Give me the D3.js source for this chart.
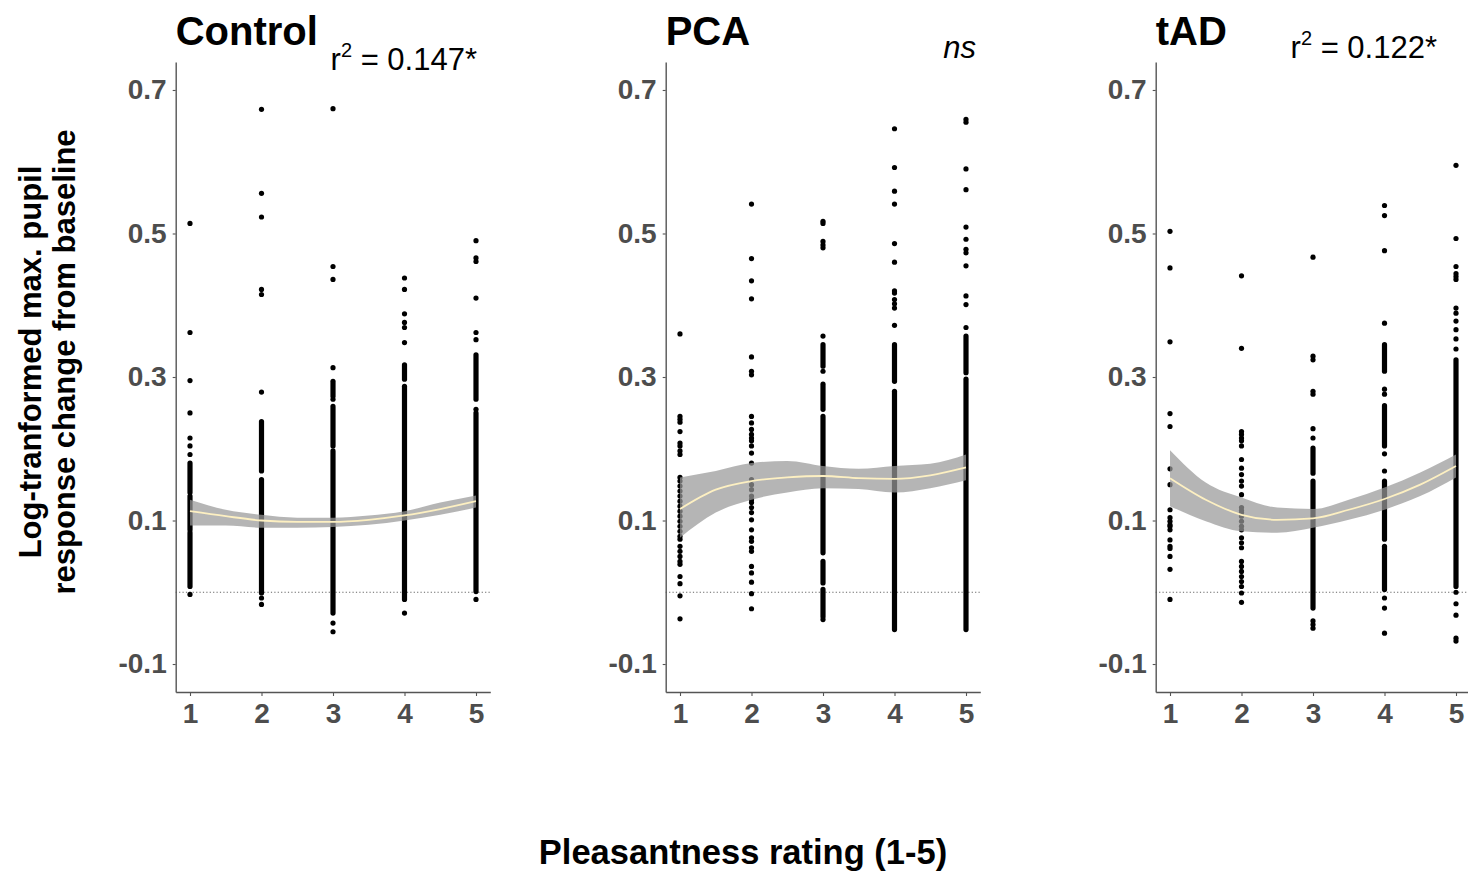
<!DOCTYPE html>
<html>
<head>
<meta charset="utf-8">
<script src="https://cdn.jsdelivr.net/npm/d3@7"></script>
<style>
  body { margin: 0; background: #fff; }
  svg { font-family: "Liberation Sans", Arial, sans-serif; }
</style>
</head>
<body>
<div id="chart"></div>
<script>
// Ratings and y ticks
const ratings = [1, 2, 3, 4, 5];
const yTicks = [-0.1, 0.1, 0.3, 0.5, 0.7];
const groups = ['Control', 'PCA', 'tAD'];
const statLabels = ['0.147*', 'ns', '0.122*'];

// Individual (isolated) points per rating
const controlPoints = [
    [0.514, 0.362, 0.295, 0.250, 0.215, 0.204, 0.192, -0.003],
    [0.673, 0.556, 0.523, 0.422, 0.415, 0.279, -0.008, -0.017],
    [0.674, 0.454, 0.436, 0.313, 0.269, -0.043, -0.055],
    [0.438, 0.422, 0.388, 0.376, 0.369, 0.348, -0.029],
    [0.490, 0.466, 0.461, 0.410, 0.362, 0.352, 0.255, -0.010]
];
// Dense stacks of overlapping points: [low, high]
const controlRuns = [
    [[0.139, 0.180], [0.087, 0.134], [0.008, 0.083]],
    [[0.169, 0.238], [-0.001, 0.157]],
    [[0.273, 0.294], [0.204, 0.259], [-0.029, 0.197]],
    [[0.297, 0.317], [-0.010, 0.287]],
    [[0.269, 0.331], [0.001, 0.250]]
];

const pcaPoints = [
    [0.360, 0.245, 0.241, 0.237, 0.224, 0.208, 0.204, 0.197, 0.192, 0.160, 0.155, 0.148, 0.141,
     0.134, 0.127, 0.120, 0.113, 0.106, 0.099, 0.092, 0.085, 0.078, 0.074, 0.064, 0.057, 0.050,
     0.043, 0.039, 0.022, 0.012, -0.005, -0.037],
    [0.541, 0.465, 0.434, 0.409, 0.328, 0.308, 0.303, 0.245, 0.236, 0.227, 0.220, 0.215, 0.211,
     0.204, 0.194, 0.180, 0.157, 0.150, 0.143, 0.134, 0.129, 0.125, 0.118, 0.111, 0.101, 0.087,
     0.076, 0.071, 0.062, 0.057, 0.036, 0.027, 0.014, -0.002, -0.023],
    [0.517, 0.514, 0.489, 0.484, 0.480, 0.357, 0.308, -0.038],
    [0.646, 0.592, 0.559, 0.541, 0.486, 0.460, 0.420, 0.417, 0.408, 0.402, 0.396, 0.372],
    [0.659, 0.655, 0.590, 0.561, 0.509, 0.492, 0.478, 0.473, 0.455, 0.413, 0.401, 0.369]
];
const pcaRuns = [
    [],
    [],
    [[0.315, 0.345], [0.255, 0.290], [0.055, 0.245], [0.013, 0.043], [-0.034, 0.004]],
    [[0.294, 0.345], [-0.052, 0.280]],
    [[0.306, 0.357], [-0.052, 0.297]]
];

const tadPoints = [
    [0.503, 0.452, 0.349, 0.249, 0.231, 0.172, 0.150, 0.115, 0.104, 0.099, 0.094, 0.092, 0.087,
     0.073, 0.064, 0.061, 0.050, 0.032, -0.010],
    [0.441, 0.340, 0.224, 0.220, 0.215, 0.211, 0.204, 0.185, 0.173, 0.164, 0.155, 0.148, 0.136,
     0.118, 0.114, 0.111, 0.106, 0.099, 0.092, 0.087, 0.076, 0.069, 0.062, 0.043, 0.036, 0.029,
     0.022, 0.015, 0.008, -0.001, -0.014],
    [0.467, 0.329, 0.324, 0.280, 0.276, 0.228, 0.215, -0.040, -0.045, -0.050],
    [0.539, 0.525, 0.476, 0.375, 0.283, 0.276, 0.193, 0.169, -0.008, -0.022, -0.057],
    [0.595, 0.493, 0.454, 0.444, 0.440, 0.436, 0.396, 0.389, 0.378, 0.366, 0.353, 0.339,
     0.000, -0.016, -0.032, -0.064, -0.068]
];
const tadRuns = [
    [],
    [],
    [[0.166, 0.201], [-0.022, 0.155]],
    [[0.308, 0.345], [0.204, 0.260], [0.074, 0.155], [0.004, 0.064]],
    [[0.008, 0.324]]
];

// Smoothed fit (loess) and its confidence band
const fitX = [1, 1.5, 2, 2.5, 3, 3.5, 4, 4.5, 5];
const controlFit = [0.113, 0.106, 0.100, 0.098, 0.098, 0.101, 0.107, 0.116, 0.127];
const controlLo  = [0.093, 0.093, 0.090, 0.090, 0.091, 0.094, 0.100, 0.108, 0.118];
const controlHi  = [0.129, 0.115, 0.108, 0.104, 0.104, 0.107, 0.113, 0.125, 0.135];
const pcaFit = [0.116, 0.143, 0.155, 0.160, 0.162, 0.159, 0.158, 0.163, 0.174];
const pcaLo  = [0.076, 0.111, 0.129, 0.139, 0.145, 0.144, 0.139, 0.145, 0.156];
const pcaHi  = [0.160, 0.169, 0.180, 0.183, 0.176, 0.172, 0.176, 0.179, 0.192];
const tadFit = [0.159, 0.129, 0.108, 0.101, 0.103, 0.115, 0.130, 0.150, 0.176];
const tadLo  = [0.120, 0.099, 0.085, 0.083, 0.090, 0.101, 0.115, 0.134, 0.160];
const tadHi  = [0.198, 0.153, 0.132, 0.118, 0.116, 0.129, 0.146, 0.167, 0.192];

const panelData = [
    { points: controlPoints, runs: controlRuns, fit: controlFit, lo: controlLo, hi: controlHi },
    { points: pcaPoints, runs: pcaRuns, fit: pcaFit, lo: pcaLo, hi: pcaHi },
    { points: tadPoints, runs: tadRuns, fit: tadFit, lo: tadLo, hi: tadHi }
];

const width = 1468, height = 872;
const panelLeft = [175.7, 665.7, 1155.7];
const panelWidth = 314.6;
const plotTop = 62, plotBottom = 692;
const dotR = 2.6;

const svg = d3.select('#chart')
    .append('svg')
    .attr('width', width)
    .attr('height', height);

const y = d3.scaleLinear()
    .domain([-0.139, 0.739])
    .range([plotBottom, plotTop]);

groups.forEach((name, i) => {
    const d = panelData[i];
    const x = d3.scaleLinear()
        .domain([0.8, 5.2])
        .range([panelLeft[i], panelLeft[i] + panelWidth]);

    const g = svg.append('g');

    // Zero reference line
    g.append('line')
        .attr('x1', x(0.8)).attr('x2', x(5.2))
        .attr('y1', y(0)).attr('y2', y(0))
        .attr('stroke', '#666')
        .attr('stroke-width', 1)
        .attr('stroke-dasharray', '1.2,2.2');

    // Dense stacks drawn as round-capped strokes
    const runs = [];
    d.runs.forEach((list, k) => list.forEach(r => runs.push({ r: ratings[k], lo: r[0], hi: r[1] })));
    g.append('g')
        .selectAll('line')
        .data(runs)
        .enter()
        .append('line')
        .attr('x1', r => x(r.r)).attr('x2', r => x(r.r))
        .attr('y1', r => y(r.lo)).attr('y2', r => y(r.hi))
        .attr('stroke', '#000')
        .attr('stroke-width', dotR * 2)
        .attr('stroke-linecap', 'round');

    const pts = [];
    d.points.forEach((list, k) => list.forEach(v => pts.push({ r: ratings[k], v: v })));
    g.append('g')
        .selectAll('circle')
        .data(pts)
        .enter()
        .append('circle')
        .attr('cx', p => x(p.r))
        .attr('cy', p => y(p.v))
        .attr('r', dotR)
        .attr('fill', '#000');

    // Confidence ribbon and fit line
    const band = fitX.map((fx, k) => ({ x: fx, lo: d.lo[k], hi: d.hi[k], f: d.fit[k] }));
    g.append('path')
        .datum(band)
        .attr('fill', '#999')
        .attr('fill-opacity', 0.72)
        .attr('d', d3.area()
            .x(b => x(b.x))
            .y0(b => y(b.lo))
            .y1(b => y(b.hi))
            .curve(d3.curveMonotoneX));
    g.append('path')
        .datum(band)
        .attr('fill', 'none')
        .attr('stroke', '#fdf0c2')
        .attr('stroke-width', 1.8)
        .attr('d', d3.line()
            .x(b => x(b.x))
            .y(b => y(b.f))
            .curve(d3.curveMonotoneX));

    // Axes (hyphen for minus, as in the original)
    const fmt = v => d3.format('.1f')(v).replace('\u2212', '-');
    const yAxis = g.append('g')
        .attr('transform', `translate(${panelLeft[i]},0)`)
        .call(d3.axisLeft(y).tickValues(yTicks).tickFormat(fmt)
            .tickSize(3).tickPadding(6).tickSizeOuter(0));
    const xAxis = g.append('g')
        .attr('transform', `translate(0,${plotBottom})`)
        .call(d3.axisBottom(x).tickValues(ratings).tickFormat(d3.format('d'))
            .tickSize(4).tickPadding(7).tickSizeOuter(0));
    [yAxis, xAxis].forEach(a => {
        a.select('.domain').attr('stroke', '#555').attr('stroke-width', 1.4);
        a.selectAll('.tick line').attr('stroke', '#555').attr('stroke-width', 1.1);
        a.selectAll('.tick text')
            .attr('fill', '#4d4d4d')
            .style('font-size', '28px')
            .style('font-weight', 'bold');
    });

    // Panel title
    svg.append('text')
        .attr('x', panelLeft[i])
        .attr('y', 45)
        .style('font-size', '40px')
        .style('font-weight', 'bold')
        .text(name);
});

// Statistics annotations
const statPos = [[477, 70], [976, 58], [1437, 58]];
statLabels.forEach((s, i) => {
    const t = svg.append('text')
        .attr('x', statPos[i][0])
        .attr('y', statPos[i][1])
        .attr('text-anchor', 'end')
        .style('font-size', '31px');
    if (s === 'ns') {
        t.style('font-style', 'italic').text(s);
    } else {
        t.append('tspan').text('r');
        t.append('tspan').attr('dy', -13).style('font-size', '20px').text('2');
        t.append('tspan').attr('dy', 13).text(' = ' + s);
    }
});

// Shared axis titles
svg.append('text')
    .attr('transform', 'translate(41,362) rotate(-90)')
    .attr('text-anchor', 'middle')
    .style('font-size', '31px')
    .style('font-weight', 'bold')
    .text('Log-tranformed max. pupil');
svg.append('text')
    .attr('transform', 'translate(75,362) rotate(-90)')
    .attr('text-anchor', 'middle')
    .style('font-size', '31px')
    .style('font-weight', 'bold')
    .text('response change from baseline');

svg.append('text')
    .attr('x', 743)
    .attr('y', 864)
    .attr('text-anchor', 'middle')
    .style('font-size', '34.5px')
    .style('font-weight', 'bold')
    .text('Pleasantness rating (1-5)');
</script>
</body>
</html>
